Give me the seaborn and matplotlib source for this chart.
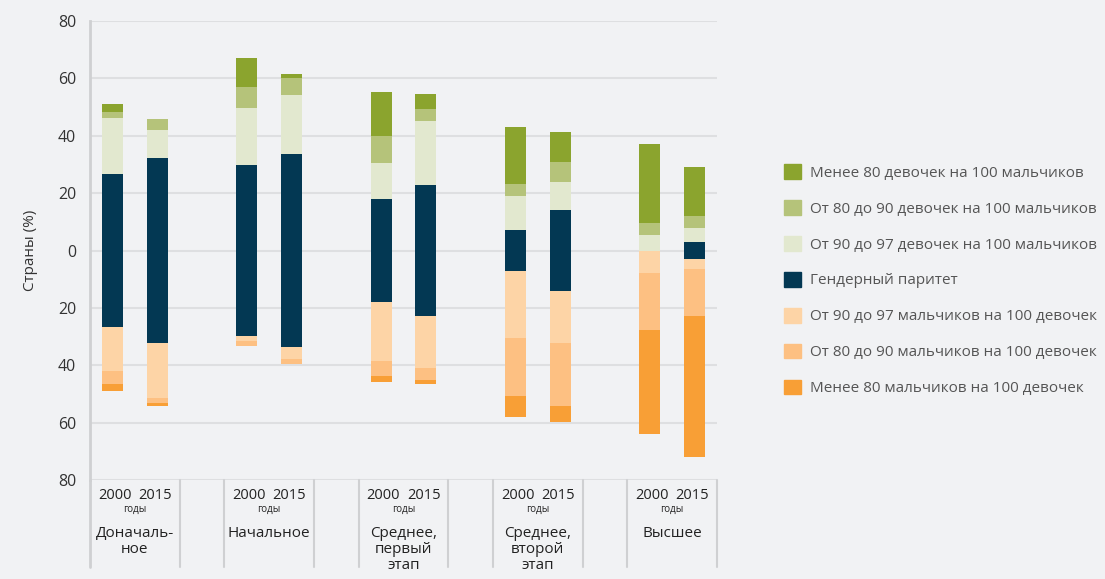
import matplotlib
matplotlib.use('Agg')
import matplotlib.pyplot as plt
import matplotlib.patches as mpatches
import seaborn as sns
import numpy as np
import pandas as pd

# bar positions: two bars per level, one empty slot between levels
x_pos = [0, 1, 3, 4, 6, 7, 9, 10, 12, 13]
years = ['2000', '2015'] * 5
levels = ['Доначаль-\nное', 'Начальное', 'Среднее,\nпервый\nэтап', 'Среднее,\nвторой\nэтап', 'Высшее']

# share of countries (%) per category, one value per bar
girls_lt80 = [2.5, 0.0, 10.1, 1.7, 15.4, 5.2, 19.8, 10.4, 27.5, 17.0]
girls_80_90 = [2.3, 3.8, 7.3, 5.9, 9.4, 4.2, 4.2, 7.0, 4.2, 4.2]
girls_90_97 = [19.5, 9.8, 19.9, 20.6, 12.5, 22.3, 11.9, 9.7, 5.4, 4.9]
parity = [53.3, 64.4, 59.5, 67.0, 36.2, 46.0, 14.2, 28.3, 0.0, 5.9]
boys_90_97 = [15.3, 19.2, 1.8, 4.2, 20.3, 18.1, 23.4, 18.1, 8.0, 3.5]
boys_80_90 = [4.6, 1.7, 1.7, 1.7, 5.2, 3.9, 20.2, 21.9, 19.8, 16.4]
boys_lt80 = [2.4, 1.0, 0.0, 0.0, 2.1, 1.4, 7.3, 5.6, 36.3, 49.1]

labels = ['Менее 80 девочек на 100 мальчиков',
          'От 80 до 90 девочек на 100 мальчиков',
          'От 90 до 97 девочек на 100 мальчиков',
          'Гендерный паритет',
          'От 90 до 97 мальчиков на 100 девочек',
          'От 80 до 90 мальчиков на 100 девочек',
          'Менее 80 мальчиков на 100 девочек']
colors = ['#8ba42e', '#b5c37a', '#e2e8cf', '#033853', '#fdd4a6', '#fdc082', '#f89f36']

bg = '#f1f2f4'
sns.set_style('white', {'axes.facecolor': bg, 'figure.facecolor': bg})
plt.rcParams['font.family'] = ['Open Sans', 'DejaVu Sans']

fig = plt.figure(figsize=(11.05, 5.79), dpi=100)
ax = fig.add_axes([0.0814, 0.171, 0.5675, 0.7927])

half = np.array(parity) / 2
up = [half, np.array(girls_90_97), np.array(girls_80_90), np.array(girls_lt80)]
down = [half, np.array(boys_90_97), np.array(boys_80_90), np.array(boys_lt80)]
up_cum = np.cumsum(up, axis=0)
down_cum = -np.cumsum(down, axis=0)

# draw from outermost layer inwards so inner layers cover outer ones
up_cols = [colors[3], colors[2], colors[1], colors[0]]
down_cols = [colors[3], colors[4], colors[5], colors[6]]
for i in range(3, -1, -1):
    for vals, col in ((up_cum[i], up_cols[i]), (down_cum[i], down_cols[i])):
        d = pd.DataFrame({'x': x_pos, 'y': vals})
        sns.barplot(data=d, x='x', y='y', native_scale=True, color=col,
                    saturation=1, width=0.47, errorbar=None, linewidth=0, ax=ax, zorder=3)

ax.set_xlim(-0.5, 13.5)
ax.set_ylim(-80, 80)
ax.set_yticks(np.arange(-80, 81, 20))
ax.set_yticklabels([str(abs(v)) for v in range(-80, 81, 20)], fontsize=11.5, color='#333333')
ax.yaxis.grid(True, color='#dedfe1', linewidth=1.5, zorder=0)
ax.set_axisbelow(True)
ax.set_xticks([])
ax.set_xlabel('')
ax.set_ylabel('Страны (%)', fontsize=11, color='#333333', labelpad=14)
for s in ['top', 'right', 'bottom']:
    ax.spines[s].set_visible(False)
ax.spines['left'].set_color('#cfd0d2')
ax.spines['left'].set_linewidth(2)
ax.tick_params(axis='y', length=6, color='#cfd0d2', width=1.5, pad=4)

# table below the axis
tr = ax.get_xaxis_transform()
for xb in [1.5, 2.5, 4.5, 5.5, 7.5, 8.5, 10.5, 11.5, 13.5]:
    ax.plot([xb, xb], [0, -0.19], transform=tr, color='#cfd0d2', lw=1.5, clip_on=False)
ax.plot([-0.5, -0.5], [0, -0.19], transform=tr, color='#cfd0d2', lw=2, clip_on=False)

for g in range(5):
    x0, x1 = x_pos[2 * g], x_pos[2 * g + 1]
    ax.text(x0 + 0.05, -0.034, years[2 * g], transform=tr, ha='center', va='center', fontsize=10.5, color='#222222')
    ax.text(x1 - 0.05, -0.034, years[2 * g + 1], transform=tr, ha='center', va='center', fontsize=10.5, color='#222222')
    ax.text((x0 + x1) / 2, -0.063, 'годы', transform=tr, ha='center', va='center', fontsize=7, color='#222222')
    ax.text((x0 + x1) / 2, -0.1, levels[g], transform=tr, ha='center', va='top', fontsize=11,
            color='#222222', linespacing=1.1)

handles = [mpatches.Patch(color=c, label=l) for c, l in zip(colors, labels)]
fig.legend(handles=handles, loc='center left', bbox_to_anchor=(0.697, 0.516), frameon=False,
           fontsize=11, labelcolor='#555555', handlelength=1.1, handleheight=1.1,
           handletextpad=0.6, labelspacing=1.27)

fig.savefig('out.png', dpi=100, facecolor=bg)
